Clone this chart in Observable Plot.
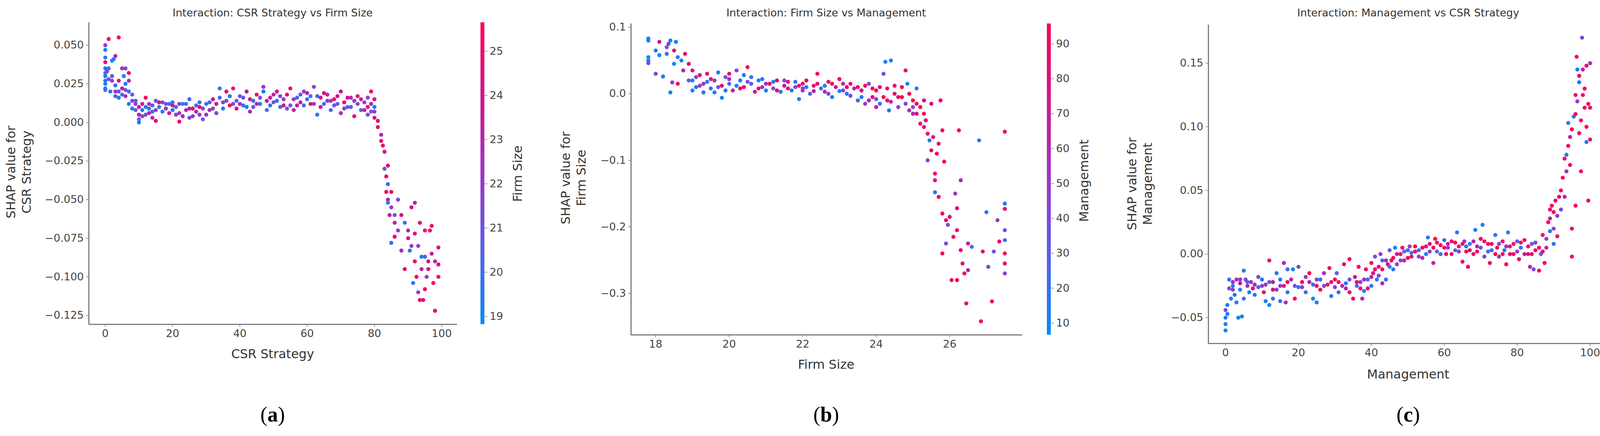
<!DOCTYPE html>
<html><head><meta charset="utf-8">
<script src="https://cdn.jsdelivr.net/npm/d3@7"></script>
<script src="https://cdn.jsdelivr.net/npm/@observablehq/plot@0.6"></script>
<style>
body{margin:0;background:#fff;}
#chart{position:relative;width:4295px;height:1115px;overflow:hidden;font-family:"DejaVu Sans",sans-serif;}
#chart svg{position:absolute;top:0;overflow:visible;}
.t{position:absolute;color:#333;white-space:nowrap;}
</style></head><body><div id="chart"></div>
<script>
// [x, shap, colour feature]
const csrPoints = [[0,0.05,22],[0,0.047,19.2],[0,0.042,19.5],[0,0.039,25],[0,0.035,19.3],[0,0.032,20],[0,0.03,19.2],[0,0.027,19.8],[0,0.025,19.1],[0,0.022,19.4],[0,0.021,20.2],[0.5,0.033,21.5],[1,0.054,25.3],[1,0.028,21],[1.5,0.02,19.5],[2,0.04,19.2],[2,0.027,22],[2.5,0.041,19.6],[3,0.043,23],[3,0.024,20],[3,0.017,20.5],[4,0.055,25.4],[4,0.02,21],[4,0.027,24],[5,0.035,22.5],[5,0.018,20],[5.5,0.03,19.3],[6,0.035,21.5],[6,0.025,19.5],[6,0.017,23],[7,0.032,25],[7,0.02,20],[7,0.012,19.5],[8,0.018,21],[8,0.009,19.4],[9,0.014,20],[9,0.012,22],[10,0.005,23],[10,0.002,20],[10,0.0,19.3],[11,0.008,19.5],[11,0.012,24],[12,0.005,21],[12,0.016,25],[13,0.009,20],[13,0.012,22],[14,0.007,19.8],[14,0.003,23],[15,0.014,20.5],[15,0.001,25],[16,0.01,19.5],[17,0.013,21],[18,0.009,22.5],[19,0.012,20],[20,0.008,19.5],[20,0.011,24],[21,0.01,21],[22,0.0005,25],[22,0.006,22],[23,0.012,19.5],[24,0.008,23],[25,0.015,20],[25,0.003,21.5],[26,0.009,24.5],[27,0.011,19.8],[28,0.005,22],[28,0.01,25],[29,0.002,21],[30,0.012,19.5],[31,0.008,23],[32,0.015,24],[33,0.006,21.5],[34,0.022,19.5],[34,0.016,20],[35,0.013,22],[36,0.02,24.5],[37,0.011,25],[38,0.022,25.2],[39,0.014,20],[40,0.012,23],[41,0.016,21],[42,0.01,19.5],[42,0.02,24],[43,0.007,22.5],[44,0.014,20],[45,0.018,25],[46,0.012,19.3],[47,0.023,22],[47,0.02,19.5],[48,0.008,20],[49,0.016,23.5],[50,0.013,21],[51,0.02,24.5],[52,0.01,19.8],[53,0.015,22],[54,0.018,25],[55,0.022,24.8],[55,0.011,21],[56,0.008,23],[57,0.016,20],[58,0.013,24],[59,0.02,22],[60,0.015,19.5],[61,0.012,25],[62,0.023,21.5],[63,0.017,20],[63,0.005,19.5],[64,0.01,23],[65,0.019,24.5],[66,0.014,22],[67,0.008,20.5],[68,0.015,25],[69,0.012,21],[70,0.02,24],[70,0.006,22.5],[71,0.013,25],[72,0.01,20],[73,0.016,23],[74,0.004,24.5],[75,0.012,21.5],[75,0.017,25],[76,0.008,20],[77,0.013,22],[78,0.01,24],[78,0.005,21],[79,0.02,25],[79,0.012,23],[80,0.01,19.5],[80,0.003,24],[81,0.001,25],[81,-0.003,24.5],[82,-0.008,23],[82,-0.012,25],[82.5,-0.015,24.5],[83,-0.019,24],[83,-0.03,21],[83.5,-0.035,24.5],[83.5,-0.045,25],[84,-0.028,25],[84,-0.04,20],[84,-0.05,23],[84,-0.052,19.5],[84.5,-0.06,24],[85,-0.045,25],[85,-0.055,22],[85,-0.078,19.5],[86,-0.06,21],[86,-0.065,23],[86,-0.074,25],[87,-0.05,21.5],[87,-0.07,22],[88,-0.06,24],[88,-0.083,22.5],[89,-0.065,20],[89,-0.095,25],[90,-0.07,23],[90,-0.075,24],[90.5,-0.083,19.5],[91,-0.055,24.5],[91,-0.08,22],[91.5,-0.104,19.5],[92,-0.052,23],[92,-0.072,24],[92,-0.09,25],[92.5,-0.1,25],[93,-0.08,22],[93,-0.11,21.5],[93.5,-0.115,25],[93.5,-0.065,24.5],[94,-0.087,19.8],[94,-0.095,23],[94.5,-0.115,24.5],[95,-0.07,25],[95,-0.087,20],[95,-0.108,25],[95.5,-0.1,22],[96,-0.09,24],[96,-0.095,25],[96.5,-0.07,25],[97,-0.085,24],[97,-0.067,25],[97.5,-0.104,25],[98,-0.122,25],[98,-0.09,23.5],[99,-0.1,25],[99,-0.081,25],[99,-0.092,24]];
const csrPointsDense = [[1,0.035,20],[2,0.03,21],[3,0.02,22],[4,0.016,19.5],[5,0.022,24],[6,0.021,21],[7,0.027,23],[8,0.014,22],[9,0.008,21],[10,0.01,24],[11,0.004,21.5],[12,0.01,19.5],[13,0.006,23],[14,0.011,21],[15,0.008,22],[16,0.013,24],[17,0.007,19.5],[18,0.012,21],[19,0.006,23.5],[20,0.013,20],[21,0.005,22],[22,0.012,21],[23,0.004,23],[24,0.012,20],[25,0.009,24],[26,0.004,22],[27,0.007,23],[28,0.013,20],[29,0.009,21.5],[30,0.005,22.5],[31,0.013,20],[32,0.009,21],[33,0.012,24],[35,0.009,19.5],[36,0.014,21],[37,0.017,20],[38,0.012,22],[39,0.009,24],[40,0.017,21],[41,0.011,19.5],[43,0.015,24],[44,0.01,21],[45,0.012,23],[46,0.016,21],[48,0.014,24],[49,0.011,20],[50,0.018,23],[51,0.014,19.5],[52,0.017,22],[53,0.011,24],[54,0.009,21],[56,0.015,22],[57,0.011,24],[58,0.018,21],[59,0.011,19.5],[60,0.019,23],[61,0.017,20],[62,0.012,22],[64,0.016,24],[65,0.012,20],[66,0.018,23],[67,0.014,22],[68,0.011,21],[69,0.017,24],[71,0.009,22],[72,0.016,24],[73,0.01,21],[74,0.014,22],[76,0.015,23],[77,0.008,24],[78,0.016,22],[79,0.007,21],[80,0.015,24],[80,0.007,22]];

const sizePoints = [[17.8,0.083,10],[17.8,0.08,12],[17.8,0.055,10],[17.8,0.05,15],[17.8,0.046,40],[18,0.03,45],[18,0.065,12],[18.1,0.058,10],[18.1,0.078,70],[18.2,0.026,12],[18.3,0.06,20],[18.3,0.07,30],[18.35,0.075,50],[18.4,0.08,12],[18.4,0.002,10],[18.45,0.017,45],[18.5,0.065,80],[18.5,0.045,10],[18.55,0.078,12],[18.6,0.055,20],[18.6,0.015,90],[18.7,0.05,10],[18.75,0.035,60],[18.8,0.06,90],[18.9,0.045,85],[18.9,0.02,30],[19,0.035,70],[19,0.005,12],[19.1,0.025,40],[19.1,0.01,20],[19.2,0.028,88],[19.3,0.002,15],[19.3,0.015,60],[19.4,0.03,90],[19.5,0.008,20],[19.6,0.02,50],[19.6,0.002,12],[19.7,0.032,15],[19.8,0.012,80],[19.8,-0.006,12],[19.9,0.025,40],[20,0.015,20],[20,0.03,85],[20.1,0.005,60],[20.2,0.035,45],[20.3,0.02,15],[20.4,0.01,90],[20.4,0.028,12],[20.5,0.04,90],[20.6,0.015,30],[20.7,0.003,75],[20.8,0.02,15],[20.9,0.01,50],[21,0.005,12],[21.1,0.015,85],[21.2,0.008,40],[21.3,0.02,90],[21.4,0.003,20],[21.5,0.012,70],[21.6,0.018,85],[21.7,0.005,12],[21.8,0.01,45],[21.9,-0.008,15],[22,0.015,90],[22,0.005,60],[22.1,0.02,85],[22.2,0.0,30],[22.3,0.012,80],[22.4,0.03,90],[22.5,0.008,20],[22.6,0.003,50],[22.7,0.018,90],[22.8,-0.005,15],[22.9,0.01,70],[23,0.022,90],[23.1,0.005,40],[23.2,0.0,20],[23.3,0.015,85],[23.4,0.008,60],[23.5,-0.01,25],[23.6,0.005,80],[23.7,-0.015,45],[23.8,0.015,40],[23.9,-0.005,85],[24,-0.02,70],[24,0.005,90],[24.1,-0.015,20],[24.2,0.03,40],[24.25,0.048,12],[24.3,-0.01,90],[24.35,-0.025,12],[24.4,0.05,12],[24.5,0.0,85],[24.6,-0.02,45],[24.7,-0.005,90],[24.8,0.035,90],[24.85,0.015,10],[24.9,-0.025,60],[25,-0.01,90],[25,-0.02,40],[25.1,0.008,15],[25.1,-0.03,85],[25.2,-0.045,90],[25.3,-0.01,80],[25.3,-0.05,85],[25.4,-0.06,90],[25.4,-0.1,45],[25.45,-0.07,20],[25.5,-0.015,80],[25.5,-0.085,90],[25.55,-0.065,80],[25.6,-0.12,90],[25.6,-0.13,90],[25.6,-0.148,15],[25.65,-0.09,90],[25.7,-0.075,90],[25.7,-0.155,90],[25.75,-0.01,90],[25.8,-0.055,90],[25.8,-0.18,90],[25.8,-0.24,90],[25.85,-0.102,90],[25.9,-0.19,85],[25.9,-0.225,40],[25.95,-0.197,40],[26,-0.185,85],[26.05,-0.28,90],[26.1,-0.215,90],[26.15,-0.15,50],[26.2,-0.172,90],[26.2,-0.205,85],[26.2,-0.28,90],[26.25,-0.055,85],[26.3,-0.13,60],[26.3,-0.235,85],[26.35,-0.255,85],[26.4,-0.27,90],[26.45,-0.315,90],[26.5,-0.225,70],[26.5,-0.265,60],[26.6,-0.23,25],[26.8,-0.07,12],[26.85,-0.342,90],[26.9,-0.237,85],[27,-0.178,15],[27.05,-0.26,40],[27.15,-0.312,90],[27.2,-0.237,35],[27.3,-0.19,50],[27.35,-0.222,85],[27.5,-0.057,85],[27.5,-0.165,12],[27.5,-0.173,90],[27.5,-0.205,35],[27.5,-0.22,20],[27.5,-0.24,85],[27.5,-0.255,90],[27.5,-0.27,45]];
const sizePointsDense = [[19,0.02,15],[19.2,0.012,45],[19.4,0.018,12],[19.5,0.022,70],[19.7,0.01,35],[19.9,0.005,15],[20,0.022,55],[20.2,0.012,12],[20.3,0.008,80],[20.5,0.018,40],[20.6,0.025,20],[20.8,0.008,85],[20.9,0.022,12],[21,0.015,60],[21.2,0.018,15],[21.3,0.005,80],[21.5,0.02,40],[21.6,0.008,90],[21.8,0.018,20],[21.9,0.012,85],[22,0.008,40],[22.1,0.01,15],[22.3,0.004,60],[22.4,0.015,85],[22.6,0.012,15],[22.7,0.0,40],[22.8,0.015,90],[23,0.004,15],[23.1,0.015,60],[23.2,0.01,85],[23.3,-0.003,40],[23.5,0.01,90],[23.6,-0.005,15],[23.7,0.012,85],[23.8,-0.01,60],[23.9,0.008,90],[24,-0.008,40],[24.1,0.01,85],[24.2,-0.005,90],[24.3,0.008,85],[24.4,-0.012,60],[24.5,0.012,90],[24.6,-0.005,85],[24.7,0.01,90],[24.8,-0.015,40],[24.9,0.0,90],[25,-0.03,60],[25.1,-0.015,90],[25.2,-0.02,85],[25.3,-0.03,90],[25.35,-0.04,80]];

const mgmtPoints = [[0,-0.044,40],[0,-0.05,10],[0,-0.055,8],[0,-0.06,5],[0.5,-0.047,10],[0.5,-0.04,12],[1,-0.02,15],[1,-0.027,40],[1.5,-0.035,10],[2,-0.025,15],[2,-0.022,60],[2.5,-0.032,12],[3,-0.038,10],[3,-0.02,50],[3.5,-0.05,10],[4,-0.028,12],[4,-0.023,70],[4.5,-0.049,10],[5,-0.013,12],[5,-0.035,15],[5.5,-0.02,40],[6,-0.025,60],[6.5,-0.03,12],[7,-0.022,45],[7.5,-0.027,80],[8,-0.032,10],[9,-0.018,40],[9,-0.026,15],[10,-0.02,12],[10.5,-0.03,85],[11,-0.037,12],[11,-0.024,50],[12,-0.005,90],[12,-0.04,10],[13,-0.022,70],[13,-0.035,15],[14,-0.015,15],[14,-0.028,40],[15,-0.02,12],[15,-0.037,20],[16,-0.007,55],[16,-0.025,85],[16.5,-0.038,50],[17,-0.012,15],[17,-0.03,12],[18,-0.02,60],[18.5,-0.012,12],[19,-0.035,85],[20,-0.01,40],[20,-0.026,12],[21,-0.022,85],[22,-0.03,15],[22,-0.018,50],[23,-0.015,90],[24,-0.024,20],[24,-0.035,10],[25,-0.02,40],[25,-0.038,12],[26,-0.028,90],[27,-0.015,55],[28,-0.024,85],[28.5,-0.011,80],[29,-0.033,12],[30,-0.02,90],[30.5,-0.015,30],[31,-0.03,15],[32,-0.025,60],[32.5,-0.008,90],[33,-0.023,15],[34,-0.004,90],[34,-0.03,85],[35,-0.035,90],[35.5,-0.018,70],[36,-0.025,20],[36.5,-0.01,85],[37,-0.022,45],[37.5,-0.035,60],[38,-0.029,12],[38.5,-0.012,85],[39,-0.02,30],[40,-0.007,90],[40,-0.025,15],[40.5,-0.015,75],[41,-0.002,30],[41.5,-0.02,12],[42,-0.01,85],[42.5,0.0,45],[43,-0.023,60],[43,-0.005,15],[44,-0.02,20],[44.5,-0.008,85],[45,0.003,30],[45.5,-0.005,90],[46,-0.012,15],[46.5,0.005,12],[47,0.0,60],[48,-0.005,40],[48.5,0.005,85],[49,0.002,20],[50,-0.003,90],[50.5,0.006,50],[51,0.001,15],[52,0.002,80],[53,-0.002,40],[54,0.005,90],[55,0.0,12],[55.5,0.013,15],[56,0.008,85],[57,-0.007,60],[57.5,0.012,90],[58,0.002,30],[59,0.007,90],[60,0.011,15],[60.5,0.0,85],[61,0.005,50],[62,0.01,90],[63,0.003,20],[63.5,0.017,12],[64,0.006,85],[65,-0.006,80],[65.5,0.01,45],[66,0.002,90],[66.5,-0.01,85],[67,0.008,15],[68,0.0,90],[68.5,0.019,12],[69,0.006,60],[70,0.012,85],[70.5,0.023,12],[71,-0.002,40],[72,0.008,90],[72.5,-0.007,85],[73,0.003,20],[74,0.015,15],[74.5,0.005,90],[75,-0.002,50],[76,0.01,85],[76.5,0.003,12],[77,-0.008,90],[77.5,0.017,12],[78,0.006,70],[79,0.0,90],[80,0.01,30],[80.5,-0.004,85],[81,0.005,15],[82,0.011,90],[83,0.0,85],[83.5,-0.01,60],[84,0.008,20],[84.5,-0.012,40],[85,0.003,90],[86,-0.013,90],[86.5,0.0,30],[87,0.015,85],[87.5,-0.007,90],[88,0.005,60],[88.5,0.025,90],[89,0.035,85],[89,0.018,15],[89.5,0.038,90],[90,0.02,40],[90,0.008,12],[90.5,0.042,85],[91,0.03,50],[91,0.014,90],[91.5,0.045,90],[92,0.05,85],[92,0.035,40],[92.5,0.06,90],[93,0.045,60],[93,0.075,90],[93.5,0.065,50],[93.5,0.078,15],[94,0.085,90],[94,0.103,12],[94.5,0.07,85],[94.5,0.092,60],[95,0.098,90],[95,0.02,85],[95,-0.002,90],[95.5,0.108,12],[96,0.125,85],[96,0.11,90],[96,0.038,90],[96.3,0.155,90],[96.5,0.145,12],[96.5,0.12,50],[97,0.135,12],[97,0.14,85],[97,0.095,90],[97.5,0.105,90],[97.5,0.065,85],[97.8,0.17,40],[98,0.145,60],[98,0.125,90],[98.5,0.115,85],[98.5,0.13,90],[99,0.148,85],[99,0.088,12],[99,0.1,90],[99.5,0.118,90],[99.5,0.042,85],[100,0.15,50],[100,0.09,90],[100,0.115,90]];
const mgmtPointsDense = [[2,-0.028,40],[4,-0.02,50],[6,-0.022,20],[8,-0.024,60],[10,-0.025,45],[12,-0.022,30],[13,-0.028,80],[15,-0.025,45],[17,-0.022,85],[19,-0.025,30],[21,-0.026,50],[23,-0.022,60],[25,-0.025,85],[26,-0.02,15],[27,-0.025,40],[29,-0.022,85],[30,-0.026,45],[31,-0.022,90],[33,-0.027,60],[34,-0.02,30],[36,-0.022,85],[37,-0.027,90],[38,-0.02,50],[39,-0.027,85],[40,-0.018,60],[41,-0.012,90],[42,-0.017,40],[43,-0.012,85],[44,-0.005,50],[45,-0.01,15],[46,-0.003,85],[47,-0.008,40],[48,0.0,90],[49,-0.005,60],[50,0.003,30],[51,-0.002,85],[52,0.006,90],[53,0.003,15],[54,-0.003,60],[55,0.006,85],[56,0.002,40],[57,0.005,90],[58,0.009,85],[59,0.0,20],[60,0.005,90],[61,0.008,60],[62,0.0,85],[63,0.009,90],[64,0.002,40],[65,0.008,90],[66,0.006,15],[67,0.003,85],[68,0.01,60],[69,0.002,90],[70,0.005,30],[71,0.01,85],[72,0.002,15],[73,0.008,90],[74,0.0,85],[75,0.008,40],[76,0.0,90],[77,0.006,60],[78,0.0,85],[79,0.008,90],[80,0.002,40],[81,0.009,85],[82,0.0,60],[83,0.006,90],[84,0.0,85],[85,0.009,40],[86,0.005,85],[87,0.002,90],[88,0.012,40],[89,0.028,60],[90,0.033,90]];

const csrTicks = [0, 20, 40, 60, 80, 100];
const csrShapTicks = [0.05, 0.025, 0, -0.025, -0.05, -0.075, -0.1, -0.125];
const sizeTicks = [18, 20, 22, 24, 26];
const sizeShapTicks = [0.1, 0, -0.1, -0.2, -0.3];
const mgmtShapTicks = [0.15, 0.1, 0.05, 0, -0.05];

const shapColors = ["#008bfb", "#7a4fe6", "#c21aa6", "#ff0052"];
const interp = d3.interpolateRgbBasis(shapColors);
const chart = document.getElementById("chart");
const minus = f => d => f(d).replace("-", "\u2212");

function text(str, x, y, size, extra = "") {
  const d = document.createElement("div");
  d.className = "t";
  d.textContent = str;
  d.style.cssText = `left:${x}px;top:${y}px;font-size:${size}px;transform:translate(-50%,-50%) ${extra};`;
  chart.append(d);
}

function panel(p) {
  const W = p.right + 40, H = 1115;
  const plot = Plot.plot({
    width: W, height: H,
    marginLeft: p.left, marginRight: W - p.right, marginTop: p.top, marginBottom: H - p.bottom,
    style: {fontSize: "27px", fontFamily: "DejaVu Sans", color: "#444", background: "transparent"},
    x: {domain: p.xd, ticks: p.xt, tickFormat: p.xf, tickSize: 7, tickPadding: 6, label: null},
    y: {domain: p.yd, ticks: p.yt, tickFormat: p.yf, tickSize: 7, tickPadding: 6, label: null},
    color: {type: "linear", domain: p.cd, interpolate: interp},
    marks: [
      Plot.ruleX([p.xd[0]], {stroke: "#666", strokeWidth: 2.5}),
      Plot.ruleY([p.yd[0]], {stroke: "#666", strokeWidth: 2.5}),
      Plot.dot(p.data, {x: d => d[0], y: d => d[1], fill: d => d[2], r: 5.2, stroke: "none"})
    ]
  });
  plot.style.left = p.ox + "px";
  chart.append(plot);
  // colour bar
  const n = 200, step = (p.cd[1] - p.cd[0]) / n;
  const steps = d3.range(n).map(i => p.cd[0] + i * step);
  const cb = Plot.plot({
    width: 120, height: H, marginLeft: 0, marginRight: 110, marginTop: p.top, marginBottom: H - p.bottom,
    style: {fontSize: "27px", fontFamily: "DejaVu Sans", color: "#444", background: "transparent"},
    x: {axis: null, domain: [0, 1]},
    y: {domain: p.cd, axis: "right", ticks: p.ct, tickFormat: d3.format("d"), tickSize: 7, tickPadding: 6, label: null},
    color: {type: "linear", domain: p.cd, interpolate: interp},
    marks: [Plot.rect(steps, {x1: 0, x2: 1, y1: d => d, y2: d => Math.min(p.cd[1], d + step * 1.5), fill: d => d})]
  });
  cb.style.left = p.cbx + "px";
  chart.append(cb);
  text(p.title, p.tx, 32, 27);
  text(p.xlabel, p.tx, p.xly, 32);
  text(p.ylabel[0], p.ylx - 20, p.yly, 32, "rotate(-90deg)");
  text(p.ylabel[1], p.ylx + 20, p.yly, 32, "rotate(-90deg)");
  text(p.clabel, p.clx, p.cly, 32, "rotate(-90deg)");
  const tag = document.createElement("div");
  tag.className = "t";
  tag.innerHTML = `(<b>${p.tag}</b>)`;
  tag.style.cssText = `left:${p.tx}px;top:1060px;font-size:54px;color:#000;font-family:'Liberation Serif',serif;transform:translate(-50%,-50%);`;
  chart.append(tag);
}

panel({ox: 0, left: 227, right: 1170, top: 57, bottom: 829, xd: [-4.88, 104.6], yd: [-0.1308, 0.0647],
  xt: csrTicks, yt: csrShapTicks, xf: d3.format("d"), yf: minus(d3.format(".3f")),
  cd: [18.82, 25.65], ct: [19, 20, 21, 22, 23, 24, 25], data: csrPoints.concat(csrPointsDense), cbx: 1230,
  title: "Interaction: CSR Strategy vs Firm Size", tx: 698, xlabel: "CSR Strategy", xly: 905,
  ylabel: ["SHAP value for", "CSR Strategy"], ylx: 48, yly: 440, clabel: "Firm Size", clx: 1325, cly: 444, tag: "a"});

panel({ox: 1430, left: 185, right: 1187, top: 60, bottom: 856, xd: [17.33, 27.98], yd: [-0.3624, 0.1053],
  xt: sizeTicks, yt: sizeShapTicks, xf: d3.format("d"), yf: minus(d3.format(".1f")),
  cd: [6.6, 95.8], ct: [10, 20, 30, 40, 50, 60, 70, 80, 90], data: sizePoints.concat(sizePointsDense), cbx: 1430 + 1250,
  title: "Interaction: Firm Size vs Management", tx: 1430 + 685, xlabel: "Firm Size", xly: 932,
  ylabel: ["SHAP value for", "Firm Size"], ylx: 1430 + 38, yly: 455, clabel: "Management", clx: 1430 + 1345, cly: 462, tag: "b"});

panel({ox: 2860, left: 233, right: 1255, top: 63, bottom: 878, xd: [-4.7, 104.8], yd: [-0.0703, 0.1801],
  xt: csrTicks, yt: mgmtShapTicks, xf: d3.format("d"), yf: minus(d3.format(".2f")),
  cd: [3.5, 94], ct: [20, 40, 60, 80], data: mgmtPoints.concat(mgmtPointsDense), cbx: 2860 + 1320,
  title: "Interaction: Management vs CSR Strategy", tx: 2860 + 745, xlabel: "Management", xly: 957,
  ylabel: ["SHAP value for", "Management"], ylx: 2860 + 58, yly: 470, clabel: "CSR Strategy", clx: 2860 + 1412, cly: 470, tag: "c"});
</script></body></html>
